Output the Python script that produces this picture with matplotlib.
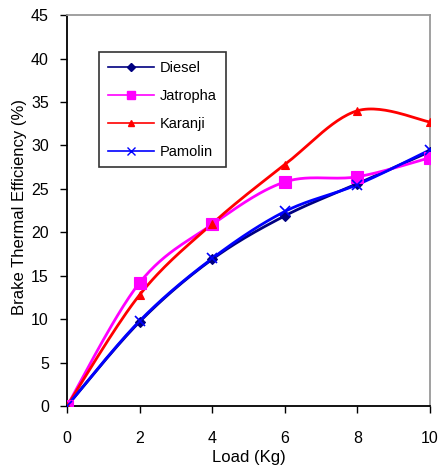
import numpy as np
import matplotlib.pyplot as plt

plt.rcParams['font.family'] = ['Liberation Sans', 'DejaVu Sans']

# Load (kg) and brake thermal efficiency (%) for each fuel
load = [0, 2, 4, 6, 8, 10]
diesel = [0, 9.7, 16.9, 21.9, 25.6, 29.3]
jatropha = [0, 14.2, 20.9, 25.8, 26.4, 28.6]
karanji = [0, 12.8, 21.0, 27.8, 34.0, 32.7]
pamolin = [0, 9.8, 17.0, 22.4, 25.5, 29.5]


def smooth(x, y, n=30):
    """Catmull-Rom style cubic Bezier through the points (spreadsheet 'smoothed line')."""
    x = np.asarray(x, float)
    y = np.asarray(y, float)
    p = np.column_stack([x, y])
    out = [p[0]]
    for i in range(len(p) - 1):
        p0 = p[i - 1] if i > 0 else p[i]
        p1, p2 = p[i], p[i + 1]
        p3 = p[i + 2] if i + 2 < len(p) else p[i + 1]
        c1 = p1 + (p2 - p0) / 6
        c2 = p2 - (p3 - p1) / 6
        t = np.linspace(0, 1, n)[1:, None]
        seg = ((1 - t) ** 3) * p1 + 3 * ((1 - t) ** 2) * t * c1 + 3 * (1 - t) * t ** 2 * c2 + t ** 3 * p2
        out.extend(seg)
    out = np.array(out)
    return out[:, 0], out[:, 1]


fig = plt.figure(figsize=(4.38, 4.68), dpi=100)
ax = fig.add_axes([0.153, 0.1325, 0.829, 0.835])

series = [
    ("Diesel", diesel, '#000080', 'D', 5),
    ("Jatropha", jatropha, '#FF00FF', 's', 8),
    ("Karanji", karanji, '#FF0000', '^', 6),
    ("Pamolin", pamolin, '#0000FF', 'x', 7),
]

for name, vals, col, mk, ms in series:
    sx, sy = smooth(load, vals)
    ax.plot(sx, sy, color=col, lw=2, solid_capstyle='round', zorder=2)
    ax.plot(load, vals, linestyle='none', marker=mk, markersize=ms,
            color=col, markeredgecolor=col, mew=1.2 if mk == 'x' else 0.8, zorder=3)
    # proxy for legend entry (line + marker)
    ax.plot([], [], color=col, lw=1.2, marker=mk, markersize=ms * 0.8, label=name)

ax.set_xlim(0, 10)
ax.set_ylim(0, 45)
ax.set_xticks(load)
ax.set_yticks(np.arange(0, 46, 5))
ax.tick_params(axis='both', direction='out', length=5, width=1, labelsize=11.5, color='black')
ax.tick_params(axis='x', pad=13)
ax.tick_params(axis='y', pad=8)
ax.spines['left'].set_color('black')
ax.spines['bottom'].set_color('black')
ax.spines['top'].set_color('#999999')
ax.spines['right'].set_color('#999999')
for s in ax.spines.values():
    s.set_linewidth(1.3)

ax.set_xlabel("Load (Kg)", fontsize=12, labelpad=3)
ax.set_ylabel("Brake Thermal Efficiency (%)", fontsize=12)
ax.yaxis.set_label_coords(-0.11, 0.51)

leg = ax.legend(loc='upper left', bbox_to_anchor=(0.088, 0.905), frameon=True,
                fancybox=False, edgecolor='black', fontsize=10.5,
                handlelength=3.2, borderpad=0.6, labelspacing=0.95, handletextpad=0.4,
                borderaxespad=0)
leg.get_frame().set_linewidth(1.2)

fig.savefig("out.png", dpi=100)
